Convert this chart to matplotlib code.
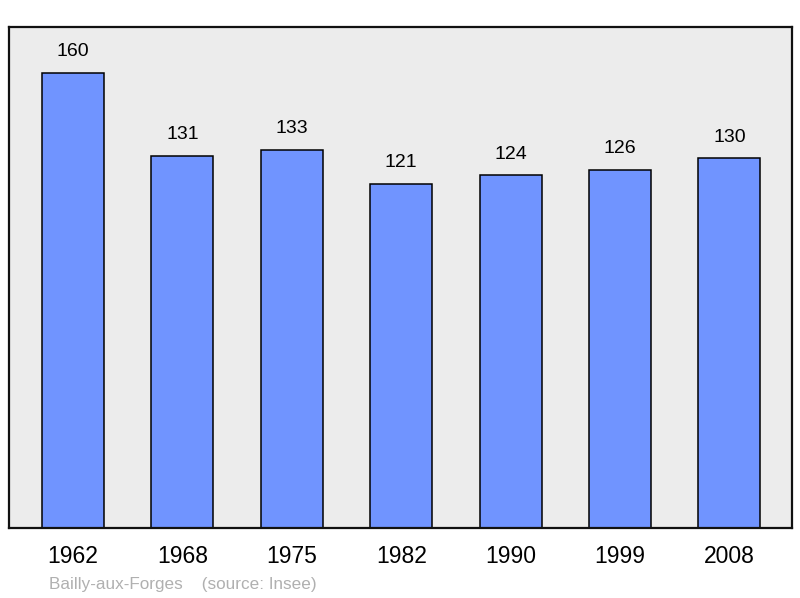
import matplotlib.pyplot as plt

# population data
years = ["1962", "1968", "1975", "1982", "1990", "1999", "2008"]
population = [160, 131, 133, 121, 124, 126, 130]
commune = "Bailly-aux-Forges"
source = "(source: Insee)"

plt.rcParams['font.family'] = ['Liberation Sans', 'DejaVu Sans']

fig = plt.figure(figsize=(8, 5.98), dpi=100)
# axes box from pixel coords: left 9, right 792, top 27, bottom 528
ax = fig.add_axes([9 / 800, 1 - 528 / 598, 783 / 800, 501 / 598])
ax.set_facecolor('#ececec')

x = range(len(years))
bars = ax.bar(x, population, width=0.567, color='#7094ff',
              edgecolor='black', linewidth=1.1, zorder=2)

for xi, v in zip(x, population):
    ax.text(xi, v + 4.5, str(v), ha='center', va='bottom', fontsize=14)

ax.set_xlim(-0.585, 6.572)
ax.set_ylim(0, 176.2)
ax.set_yticks([])
ax.set_xticks(list(x))
ax.set_xticklabels(years, fontsize=16.5)
ax.tick_params(axis='x', length=0, pad=12)
for s in ax.spines.values():
    s.set_linewidth(1.6)
    s.set_color('#111111')

fig.text(49 / 800, 1 - 584 / 598, commune + "    " + source,
         fontsize=12.3, color='#b0b0b0', va='center', ha='left')

fig.savefig('out.png', dpi=100)
